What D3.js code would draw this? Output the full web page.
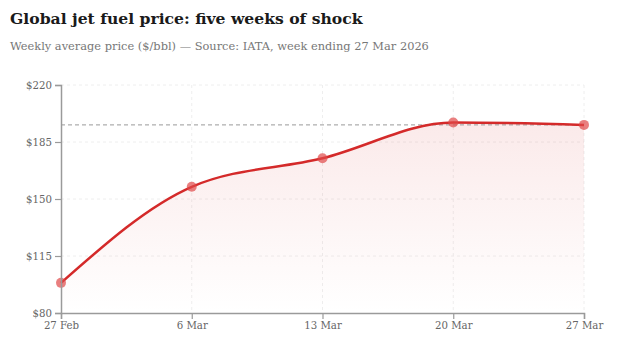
<!DOCTYPE html>
<html>
<head>
<meta charset="utf-8">
<script src="https://cdn.jsdelivr.net/npm/d3@7"></script>
<style>
  body { margin: 0; background: #fff; }
  svg { display: block; }
</style>
</head>
<body>
<svg id="chart" width="628" height="361"></svg>
<script>
// weekly average jet fuel price, $/bbl
var weeks = ["27 Feb", "6 Mar", "13 Mar", "20 Mar", "27 Mar"];
var prices = [98.5, 157.5, 175, 197, 195.5];
var yTicks = [80, 115, 150, 185, 220];
var refLevel = 195.5;

var Font = "'DejaVu Serif', Georgia, serif";
var Line_color = "#d42a2a";
var Axis_color = "#9a9a9a";
var Text_color = "#666";

var svg = d3.select("#chart");
var margin = {top: 85, right: 44, bottom: 48, left: 61};
var W = 628, H = 361;

var x = d3.scalePoint().domain(weeks).range([margin.left, W - margin.right]);
var y = d3.scaleLinear().domain([80, 220]).range([H - margin.bottom, margin.top]);

var data = weeks.map(function(w, i){ return {week: w, price: prices[i]}; });

// title and subtitle
svg.append("text")
  .attr("x", 10).attr("y", 24)
  .text("Global jet fuel price: five weeks of shock")
  .style("font-family", Font)
  .style("font-weight", "bold")
  .style("font-size", "15.6px")
  .style("fill", "#1a1a1a");

svg.append("text")
  .attr("x", 10).attr("y", 50)
  .text("Weekly average price ($/bbl) \u2014 Source: IATA, week ending 27 Mar 2026")
  .style("font-family", Font)
  .style("font-size", "11.4px")
  .style("fill", "#777");

// gradient for area
var defs = svg.append("defs");
var grad = defs.append("linearGradient")
  .attr("id", "areaGrad")
  .attr("x1", 0).attr("y1", 0).attr("x2", 0).attr("y2", 1);
grad.append("stop").attr("offset", "0%").attr("stop-color", Line_color).attr("stop-opacity", 0.1);
grad.append("stop").attr("offset", "100%").attr("stop-color", Line_color).attr("stop-opacity", 0.0);

// grid
svg.append("g")
  .selectAll("line.hgrid")
  .data(yTicks.slice(1))
  .enter().append("line")
  .attr("x1", margin.left).attr("x2", W - margin.right)
  .attr("y1", function(d){ return y(d); })
  .attr("y2", function(d){ return y(d); })
  .style("stroke", "#eee")
  .style("stroke-dasharray", "3,3");

svg.append("g")
  .selectAll("line.vgrid")
  .data(weeks.slice(1))
  .enter().append("line")
  .attr("x1", function(d){ return x(d); })
  .attr("x2", function(d){ return x(d); })
  .attr("y1", margin.top).attr("y2", H - margin.bottom)
  .style("stroke", "#eee")
  .style("stroke-dasharray", "3,3");

// area + line
var area = d3.area()
  .x(function(d){ return x(d.week); })
  .y0(y(80))
  .y1(function(d){ return y(d.price); })
  .curve(d3.curveMonotoneX);

var line = d3.line()
  .x(function(d){ return x(d.week); })
  .y(function(d){ return y(d.price); })
  .curve(d3.curveMonotoneX);

svg.append("path")
  .datum(data)
  .attr("d", area)
  .style("fill", "url(#areaGrad)");

// reference level
svg.append("line")
  .attr("x1", margin.left).attr("x2", W - margin.right)
  .attr("y1", y(refLevel)).attr("y2", y(refLevel))
  .style("stroke", "#999")
  .style("stroke-width", 1)
  .style("stroke-dasharray", "4,3");

svg.append("path")
  .datum(data)
  .attr("d", line)
  .style("fill", "none")
  .style("stroke", Line_color)
  .style("stroke-width", 2.5);

svg.append("g")
  .selectAll("circle")
  .data(data)
  .enter().append("circle")
  .attr("cx", function(d){ return x(d.week); })
  .attr("cy", function(d){ return y(d.price); })
  .attr("r", 5)
  .style("fill", "#e04848")
  .style("fill-opacity", 0.7);

// axes
var xAxis = svg.append("g")
  .attr("transform", "translate(0," + y(80) + ")")
  .call(d3.axisBottom(x).tickSize(6).tickPadding(3));

var yAxis = svg.append("g")
  .attr("transform", "translate(" + margin.left + ",0)")
  .call(d3.axisLeft(y).tickValues(yTicks).tickSize(6).tickPadding(3)
    .tickFormat(function(d){ return "$" + d; }));

[xAxis, yAxis].forEach(function(g){
  g.select(".domain").style("stroke", Axis_color).style("stroke-width", 1.5);
  g.selectAll(".tick line").style("stroke", Axis_color).style("stroke-width", 1.2);
  g.selectAll(".tick text")
    .style("font-family", Font)
    .style("font-size", "10.2px")
    .style("fill", Text_color);
});
</script>
</body>
</html>
